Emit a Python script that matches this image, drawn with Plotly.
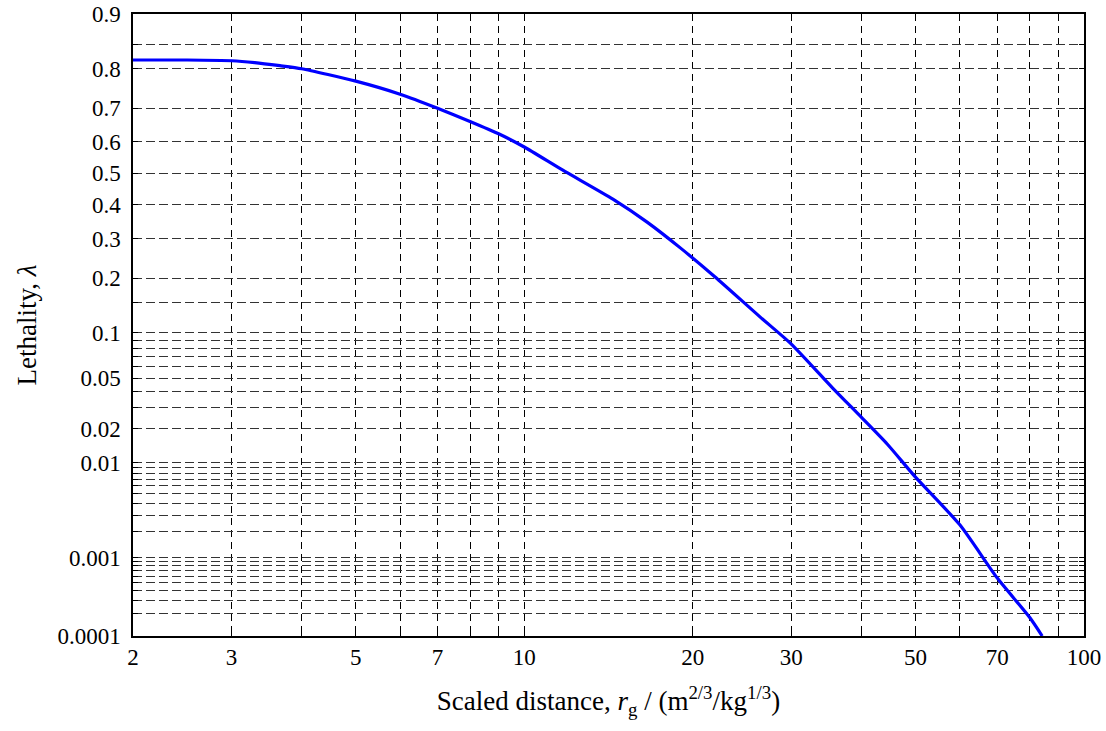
import plotly.graph_objects as go
from statistics import NormalDist
import math

# Data
distance = [2, 2.5, 3, 3.3, 3.66, 4, 5, 6, 7, 8, 9, 10, 11.7, 14.4, 16.6, 19.1, 21.9,
            26.4, 30, 35.6, 40, 44.5, 50, 60, 70, 80, 84.2]
lethality = [0.819, 0.819, 0.8175, 0.8135, 0.8067, 0.800, 0.771, 0.738, 0.700, 0.662, 0.625,
             0.584, 0.511, 0.418, 0.347, 0.272, 0.203, 0.124, 0.085, 0.042, 0.025,
             0.0148, 0.0073, 0.00236, 0.00057, 0.000178, 0.0001]

x_grid = [2, 3, 4, 5, 6, 7, 8, 9, 10, 20, 30, 40, 50, 60, 70, 80, 90, 100]
x_labels = ["2", "3", "", "5", "", "7", "", "", "10", "20", "30", "", "50", "", "70", "", "", "100"]

y_grid = ([k * 0.0001 for k in range(1, 10)] + [k * 0.001 for k in range(1, 10)]
          + [k * 0.01 for k in range(1, 10)] + [0.1, 0.15, 0.2, 0.3, 0.4, 0.5, 0.6, 0.7, 0.8, 0.85, 0.9])
y_labelled = {0.0001: "0.0001", 0.001: "0.001", 0.01: "0.01", 0.02: "0.02", 0.05: "0.05",
              0.1: "0.1", 0.2: "0.2", 0.3: "0.3", 0.4: "0.4", 0.5: "0.5", 0.6: "0.6",
              0.7: "0.7", 0.8: "0.8", 0.9: "0.9"}

nd = NormalDist()
probit = lambda p: nd.inv_cdf(p)

y_tickvals = [probit(v) for v in y_grid]
y_ticktext = []
for v in y_grid:
    lab = ""
    for k, t in y_labelled.items():
        if abs(k - v) < 1e-12:
            lab = t
    y_ticktext.append(lab)

fig = go.Figure()
fig.add_trace(go.Scatter(
    x=distance, y=[probit(v) for v in lethality], mode="lines",
    line=dict(color="#0000ff", width=3.2, shape="spline", smoothing=0.6), showlegend=False))

family = "Liberation Serif, Times New Roman, serif"
tick_font = dict(family=family, size=23, color="black")
title_font = dict(family=family, size=27, color="black")

fig.update_layout(
    width=1106, height=731,
    margin=dict(l=133, r=22, t=14, b=95),
    paper_bgcolor="white", plot_bgcolor="white",
    font=tick_font,
    xaxis=dict(
        type="log", range=[math.log10(2), 2], automargin=False,
        tickmode="array", tickvals=x_grid, ticktext=x_labels, tickfont=tick_font,
        showgrid=True, gridcolor="black", gridwidth=1, griddash="7px,5px",
        showline=True, linecolor="black", linewidth=1.5, mirror="ticks",
        ticks="inside", ticklen=5, tickcolor="black",
        zeroline=False,
        title=dict(text="Scaled distance, <i>r</i><sub>g</sub> / (m<sup>2/3</sup>/kg<sup>1/3</sup>)",
                   font=title_font, standoff=22),
    ),
    yaxis=dict(
        range=[probit(0.0001), probit(0.9)], automargin=False,
        tickmode="array", tickvals=y_tickvals, ticktext=y_ticktext, tickfont=tick_font,
        ticklabelstandoff=6,
        showgrid=True, gridcolor="#333333", gridwidth=1, griddash="9px,4px",
        showline=True, linecolor="black", linewidth=1.5, mirror="ticks",
        ticks="inside", ticklen=5, tickcolor="black",
        zeroline=False,
        title=dict(text="Lethality, <i>λ</i>", font=title_font, standoff=13),
    ),
)

fig.write_html("out.html")
